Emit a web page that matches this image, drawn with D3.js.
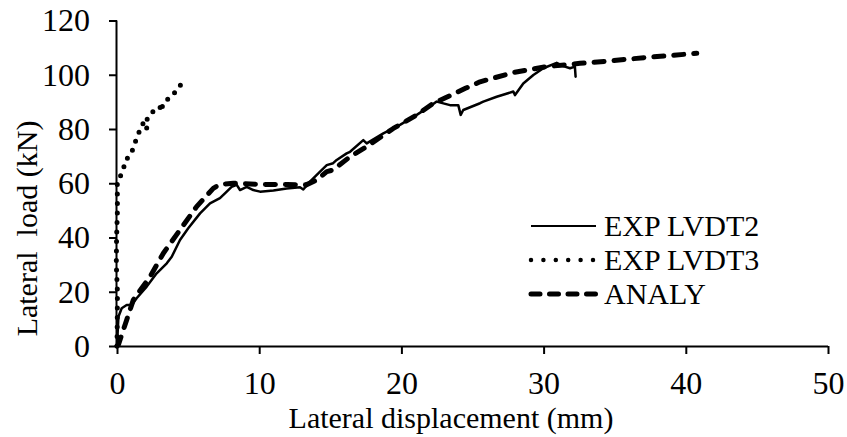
<!DOCTYPE html>
<html>
<head>
<meta charset="utf-8">
<script src="https://cdn.jsdelivr.net/npm/d3@7"></script>
<style>
  body { margin: 0; background: #fff; }
  svg text { font-family: "Liberation Serif", "Times New Roman", Tinos, "DejaVu Serif", serif !important; fill: #000; }
</style>
</head>
<body>
<svg id="chart" width="847" height="437"></svg>
<script>
// ---- data (displacement mm, load kN) ----
const seriesNames = ["EXP LVDT2", "EXP LVDT3", "ANALY"];
const xTicks = [0, 10, 20, 30, 40, 50];
const yTicks = [0, 20, 40, 60, 80, 100, 120];

const lvdt2X = [0, 0.1, 0.33, 0.68, 1.03, 1.38, 2.09, 2.79, 3.5, 3.85, 4.43, 5.01, 5.84, 6.54, 7.24, 7.59, 8.06, 8.42, 8.65, 9.12, 9.59, 10.06, 11.0, 11.93, 12.87, 13.1, 13.57, 14.28, 14.75, 15.2, 15.45, 16.15, 16.39, 17.32, 17.56, 18.73, 19.9, 21.08, 22.13, 22.48, 23.42, 24.0, 24.17, 24.35, 25.53, 25.76, 26.7, 27.87, 27.99, 28.57, 29.28, 29.98, 30.92, 31.39, 31.86, 32.2, 32.25];
const lvdt2Y = [0, 10.8, 13.9, 15.1, 15.1, 17.6, 21.9, 26.8, 30.5, 32.9, 39.1, 43.4, 48.9, 52.6, 54.5, 56.3, 58.7, 59.4, 57.5, 58.7, 57.5, 56.9, 57.3, 58.1, 58.5, 57.7, 60.6, 64.3, 66.7, 67.4, 68.6, 71.0, 71.6, 75.9, 74.7, 78.4, 81.5, 85.2, 88.8, 90.1, 88.8, 88.8, 85.2, 87.0, 89.5, 90.1, 91.9, 93.8, 92.5, 96.8, 99.9, 102.4, 104.4, 103.2, 102.4, 103.0, 99.3];

const lvdt3X = [0, 0.02, 0.03, -0.05, -0.03, 0.03, 0.02, 0.33, 0.49, 0.63, 0.91, 1.15, 1.27, 1.5, 1.74, 1.9, 2.09, 2.0, 2.32, 2.67, 3.02, 3.09, 3.26, 3.73, 3.96, 4.43, 4.94];
const lvdt3Y = [0, 10, 20, 30, 40, 50, 60, 63.7, 66.1, 68.6, 70.4, 72.9, 75.0, 78.2, 81.1, 82.7, 80.3, 82.5, 85.5, 87.0, 88.2, 86.4, 89.7, 91.7, 92.8, 96.1, 96.5];

const analyX = [0, 0.1, 0.68, 1.15, 2.32, 3.26, 4.43, 5.6, 6.77, 7.24, 8.18, 10.0, 12.0, 13.3, 14.04, 14.75, 15.2, 16.39, 17.56, 19.43, 21.08, 22.25, 23.5, 24.5, 25.53, 27.87, 30.22, 32.56, 34.9, 37.25, 40.77];
const analyY = [0, 0.5, 9.6, 17.0, 25.5, 34.2, 42.8, 51.4, 58.1, 59.6, 60.0, 59.6, 59.5, 59.4, 61.2, 64.3, 64.9, 69.8, 73.5, 80.2, 85.2, 89.5, 92.5, 95.0, 97.4, 100.8, 103.0, 104.2, 105.2, 106.4, 107.9];

// ---- layout ----
const svg = d3.select("#chart");
const x = d3.scaleLinear().domain([0, 50]).range([117, 828]);
const y = d3.scaleLinear().domain([0, 120]).range([346, 20.5]);

const fontSize = 30;
const tickFont = 32;
const serif = "'Liberation Serif', 'Times New Roman', Tinos, 'DejaVu Serif', serif";

// axes
const xAxis = d3.axisBottom(x).tickValues(xTicks).tickSize(8).tickPadding(17).tickFormat(d3.format("d"));
const yAxis = d3.axisLeft(y).tickValues(yTicks).tickSize(8).tickPadding(19).tickFormat(d3.format("d"));

const gx = svg.append("g").attr("transform", `translate(0,${y(0)})`).call(xAxis);
const gy = svg.append("g").attr("transform", `translate(${x(0)},0)`).call(yAxis);
[gx, gy].forEach(g => {
  g.attr("font-family", serif).attr("font-size", tickFont);
  g.select(".domain").attr("stroke", "#000").attr("stroke-width", 2);
  g.selectAll(".tick line").attr("stroke", "#000").attr("stroke-width", 2);
  g.selectAll(".tick text").attr("font-size", tickFont).attr("fill", "#000");
});
gx.select(".domain").attr("d", `M${x(0)},0.5H${x(50)}`);
gy.select(".domain").attr("d", `M-0.5,${y(0)}V${y(120)}`);

// titles
svg.append("text")
  .attr("x", 451).attr("y", 428)
  .attr("text-anchor", "middle")
  .attr("font-size", fontSize)
  .text("Lateral displacement (mm)");

svg.append("text")
  .attr("transform", `translate(37,${228.5}) rotate(-90)`)
  .attr("text-anchor", "middle")
  .attr("font-size", fontSize)
  .style("white-space", "pre")
  .text("Lateral  load (kN)");

// lines
const line = d3.line().x(d => x(d[0])).y(d => y(d[1]));
const zip = (a, b) => a.map((v, i) => [v, b[i]]);

const styles = [
  { data: zip(lvdt2X, lvdt2Y), width: 2.5, dash: null, cap: "round" },
  { data: zip(lvdt3X, lvdt3Y), width: 5, dash: "0,9.5", cap: "round" },
  { data: zip(analyX, analyY), width: 5, dash: "10,10", cap: "round" }
];

const plot = svg.append("g");
[styles[2], styles[1], styles[0]].forEach(s => {
  plot.append("path")
    .attr("d", line(s.data))
    .attr("fill", "none")
    .attr("stroke", "#000")
    .attr("stroke-width", s.width)
    .attr("stroke-linecap", s.cap)
    .attr("stroke-linejoin", "round")
    .attr("stroke-dasharray", s.dash);
});

// legend
const legRows = [226, 260, 294];
const legend = svg.append("g");
seriesNames.forEach((name, i) => {
  legend.append("line")
    .attr("x1", 531).attr("x2", 596)
    .attr("y1", legRows[i]).attr("y2", legRows[i])
    .attr("stroke", "#000")
    .attr("stroke-width", i === 0 ? 2.2 : (i === 1 ? 4.5 : 5))
    .attr("stroke-linecap", i === 0 ? "butt" : "round")
    .attr("stroke-dasharray", i === 0 ? null : (i === 1 ? "0,12.4" : "9,9.5"));
  legend.append("text")
    .attr("x", 604).attr("y", legRows[i] + 10)
    .attr("font-size", fontSize)
    .text(name);
});
</script>
</body>
</html>
